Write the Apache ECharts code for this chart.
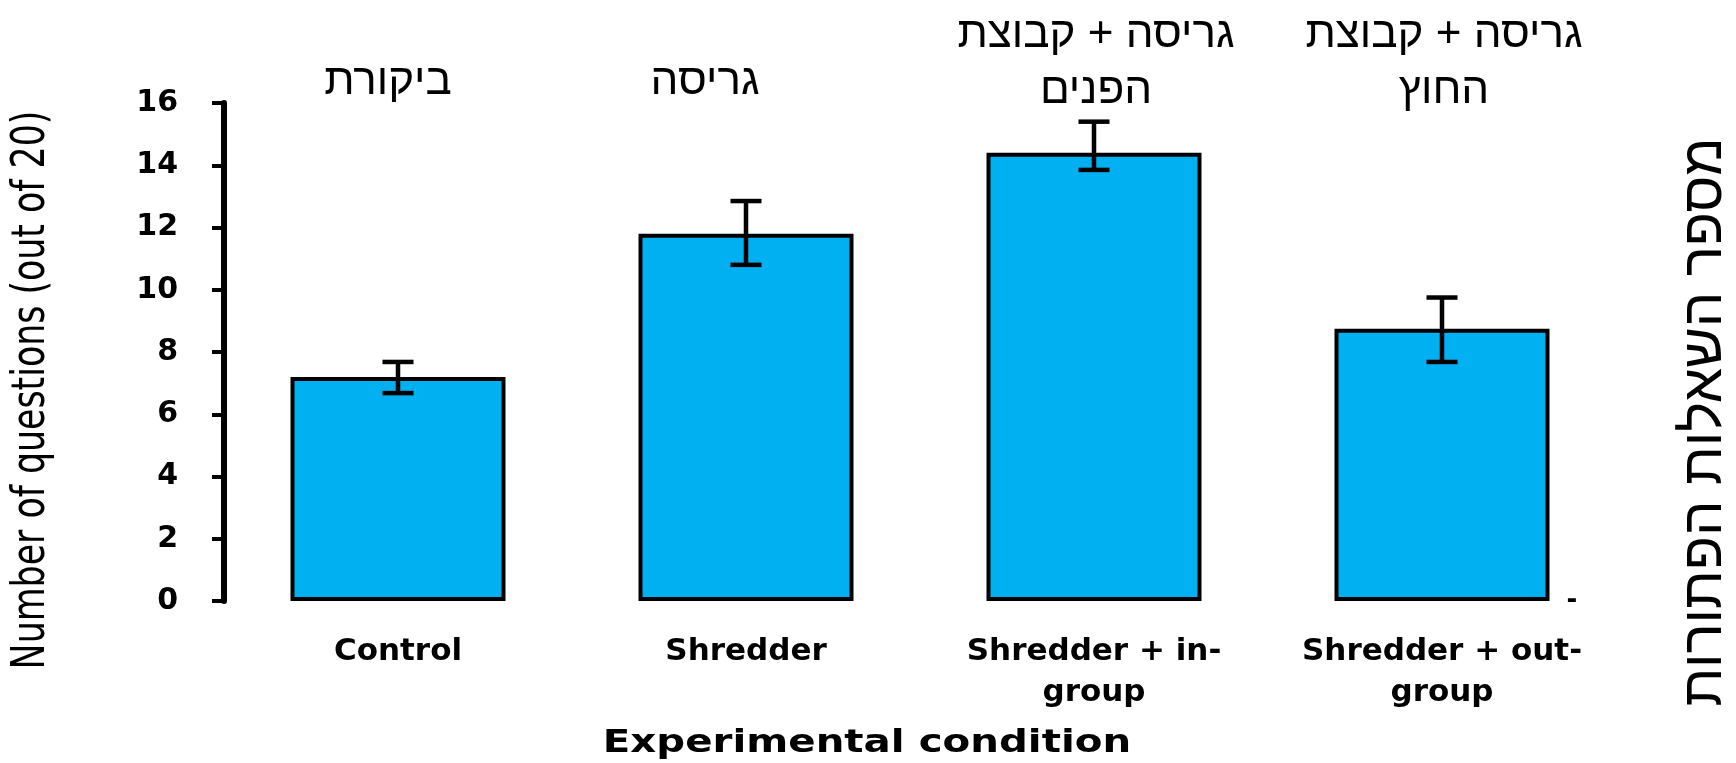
<!DOCTYPE html>
<html>
<head>
<meta charset="utf-8">
<title>Experimental condition</title>
<script src="https://cdn.jsdelivr.net/npm/echarts@6/dist/echarts.min.js"></script>
<style>
  html, body { margin: 0; padding: 0; background: #ffffff; }
  #chart { width: 1736px; height: 763px; }
</style>
</head>
<body>
<div id="chart"></div>
<script>
// data
const categories = ['Control', 'Shredder', 'Shredder + in-\ngroup', 'Shredder + out-\ngroup'];
const hebrewLabels = ['ביקורת', 'גריסה', 'גריסה + קבוצת\nהפנים', 'גריסה + קבוצת\nהחוץ'];
const means = [7.2, 11.8, 14.4, 8.75];
const errLow = [6.68, 10.8, 13.85, 7.68];
const errHigh = [7.68, 12.85, 15.4, 9.75];
const yMin = 0;
const yMax = 16;
const yStep = 2;

const yTitle = 'Number of questions (out of 20)';
const xTitle = 'Experimental condition';
const rightTitle = 'מספר השאלות הפתורות';

let chart = echarts.init(document.getElementById('chart'));

// Hebrew labels over the bars (positions of the pasted-in text)
const hebPos = [[388, 82], [705, 82], [1096, 63], [1444, 63]];
let hebGraphics = hebrewLabels.map((t, i) => ({
  type: 'text',
  x: hebPos[i][0],
  y: hebPos[i][1],
  style: {
    text: t,
    font: '44px "Liberation Sans", sans-serif',
    fill: '#000',
    align: 'center',
    verticalAlign: 'middle',
    lineHeight: 56
  }
}));

let option = {
  animation: false,
  backgroundColor: '#ffffff',
  grid: {
    left: 224,
    right: 120,
    top: 103,
    bottom: 162
  },
  xAxis: {
    type: 'category',
    data: categories,
    axisLine: {show: false},
    axisTick: {show: false},
    axisLabel: {
      interval: 0,
      hideOverlap: false,
      color: '#000',
      fontFamily: 'DejaVu Sans',
      fontWeight: 'bold',
      fontSize: 31,
      lineHeight: 41,
      margin: 30
    }
  },
  yAxis: {
    type: 'value',
    min: yMin,
    max: yMax,
    interval: yStep,
    splitLine: {show: false},
    axisLine: {show: true, lineStyle: {color: '#000', width: 6}},
    axisTick: {show: true, length: 12, lineStyle: {color: '#000', width: 4}},
    axisLabel: {
      color: '#000',
      fontFamily: 'DejaVu Sans',
      fontWeight: 'bold',
      fontSize: 30,
      margin: 46
    }
  },
  series: [
    {
      type: 'bar',
      data: means,
      barWidth: 215,
      itemStyle: {
        color: '#00B0F0',
        borderColor: '#000',
        borderWidth: 4
      }
    },
    {
      type: 'custom',
      z: 10,
      data: categories.map((c, i) => [i, errLow[i], errHigh[i]]),
      renderItem: function (params, api) {
        let lo = api.coord([api.value(0), api.value(1)]);
        let hi = api.coord([api.value(0), api.value(2)]);
        let half = 15.5;
        let st = {stroke: '#000', lineWidth: 4.5};
        return {
          type: 'group',
          children: [
            {type: 'line', shape: {x1: lo[0], y1: lo[1], x2: hi[0], y2: hi[1]}, style: st},
            {type: 'line', shape: {x1: hi[0] - half, y1: hi[1], x2: hi[0] + half, y2: hi[1]}, style: st},
            {type: 'line', shape: {x1: lo[0] - half, y1: lo[1], x2: lo[0] + half, y2: lo[1]}, style: st}
          ]
        };
      }
    }
  ],
  graphic: [
    {
      // the picture is stretched sideways, so the rotated title looks condensed
      type: 'text',
      x: 32,
      y: 390,
      rotation: Math.PI / 2,
      scaleX: 0.74,
      style: {
        text: yTitle,
        font: '47px "DejaVu Sans", sans-serif',
        fill: '#000',
        align: 'center',
        verticalAlign: 'middle'
      }
    },
    {
      type: 'text',
      x: 867,
      y: 744,
      scaleX: 1.26,
      style: {
        text: xTitle,
        font: 'bold 32px "DejaVu Sans", sans-serif',
        fill: '#000',
        align: 'center',
        verticalAlign: 'middle'
      }
    },
    {
      type: 'text',
      x: 1706,
      y: 422,
      rotation: Math.PI / 2,
      style: {
        text: rightTitle,
        font: '56px "Liberation Sans", sans-serif',
        fill: '#000',
        align: 'center',
        verticalAlign: 'middle'
      }
    },
    {
      type: 'text',
      x: 1572,
      y: 601,
      style: {
        text: '-',
        font: 'bold 26px "DejaVu Sans", sans-serif',
        fill: '#000',
        align: 'center',
        verticalAlign: 'middle'
      }
    }
  ].concat(hebGraphics)
};

chart.setOption(option);
</script>
</body>
</html>
